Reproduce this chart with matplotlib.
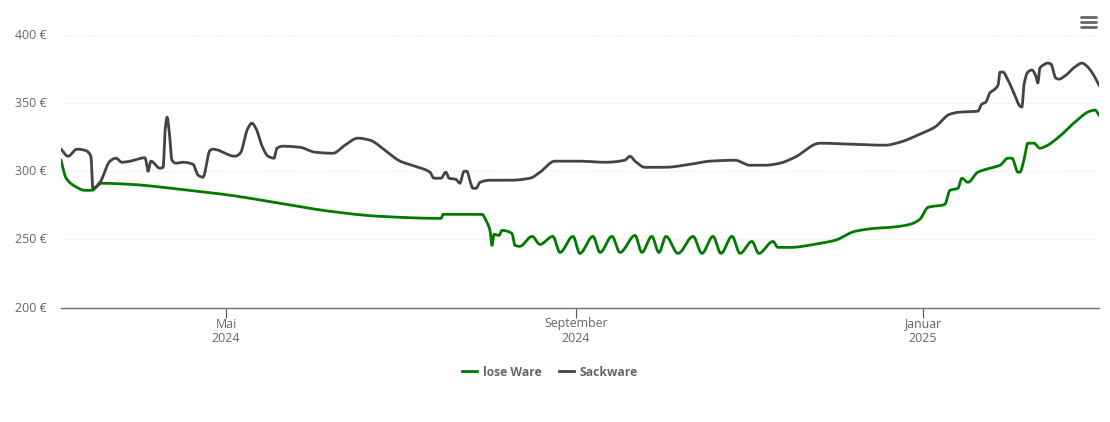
import numpy as np
import matplotlib
matplotlib.use("Agg")
import matplotlib.pyplot as plt
from matplotlib.lines import Line2D
from matplotlib.transforms import ScaledTranslation

# days since 2024-03-04, euros
sack_days = [0,2.5,5.6,8.4,10.5,11.2,13.7,17.2,19.3,21.4,24.3,29.5,30.2,30.6,31.6,34.8,35.9,36.6,37.3,38.0,39.0,40.4,42.9,46.4,48.2,49.9,52.4,53.4,61.2,63,65.7,67.1,68.5,70.7,72.8,74.9,75.9,78,84,89.3,95.6,99.8,104.4,108.6,113.9,119.2,124.4,129.7,131.1,133.6,135.3,136.4,138.8,140.2,141.7,142.7,143.8,144.8,145.9,147.3,150.8,157.8,164.9,168.4,173.6,182.4,191.2,198.2,200,201.8,205.3,212.3,221.1,228.1,236.9,242.2,247.5,252.7,258,266.8,277.3,289.6,294.9,301.9,307.2,312.5,316,322.3,323.7,325.1,326.5,328.3,329.4,330.1,331.1,332.9,335.3,337.1,337.8,338.5,339.9,341.3,342.7,343.4,344.1,344.8,346.9,348,349.7,350.8,352.9,356.4,358.9,360.6,362.8,364.9]
sack_vals = [316.2,311,316.2,315.4,311,287.5,291.9,307.4,309.6,306.6,307.4,309.9,304.4,300,307.4,302.2,302.9,330.1,339.7,330.1,308.1,305.9,306.6,305.1,297.1,295.6,315.4,316.2,311,313.2,331.6,335.3,331.6,318.4,311,309.6,316.9,318.4,317.6,314,313.2,319.1,324.3,322.8,315.4,307.4,303.7,299.3,294.9,294.9,299.3,294.9,294.1,291.2,300,300,292.6,287.5,287.5,291.9,293.4,293.4,294.9,299.3,307.4,307.4,306.6,308.1,311,307.4,302.9,302.9,305.1,307.4,308.1,304.4,304.4,305.9,310.3,320.6,319.9,319.1,321.3,327.2,332.4,341.9,343.4,344.1,349.3,350.7,357.4,360.3,363.2,372.8,372.8,366.9,355.9,347.8,347.1,363.2,372.8,374.3,369.9,364.7,375.7,377.2,379.4,378.7,368.4,367.6,369.9,376.5,379.4,377.2,371.3,363.2]

lose_days = [0,1.8,4.9,8.4,10.9,12.7,14.1,24.3,41.8,59.4,77,94.6,112.1,133.6,134.3,148,149.4,150.8,151.5,152.2,154,155,158.5,159.6,161.3,165.6,168.4,172.9,175.4,180,182.4,187,189.5,193.7,196.5,201.8,204.2,207.7,210.2,212.7,216.9,222.2,225.3,229.2,232,235.9,238.7,242.9,245.3,250.3,252,256.2,266.8,272.1,279.1,286.1,291.4,298.4,301.9,304.8,310.7,312.5,315.3,316.7,318.8,322.3,326.5,330.1,332.9,334.3,336.4,337.1,338.5,339.9,342,344.1,346.2,351.1,356.4,361.7,363.5,364.9]
lose_vals = [308.1,294.9,289,286,286,289,291.2,290.4,286.8,282.4,276.5,270.6,266.9,265.4,268.4,268.4,264,256.6,245.6,253.7,252.9,256.6,254.4,245.6,244.9,252.2,246.3,252.2,240.4,252.2,239.7,252.2,240.4,252.2,240.4,252.9,240.4,252.2,240.4,252.2,239.7,252.2,239.7,252.2,239.7,252.2,239.7,248.5,239.7,248.5,244.1,244.1,247.1,249.3,255.9,258.1,258.8,261,264.7,273.5,275.7,286,287.5,294.9,291.9,299.3,302.2,304.4,309.6,309.6,299.3,299.3,308.1,320.6,320.6,316.9,318.4,325.7,336,344.1,344.9,341.2]

x_ticks = [58, 181, 303]
x_labels = ["Mai\n2024", "September\n2024", "Januar\n2025"]
y_ticks = [200, 250, 300, 350, 400]
y_labels = ["200 €", "250 €", "300 €", "350 €", "400 €"]
series_names = ["lose Ware", "Sackware"]
GREEN, DARK = "#007a00", "#434348"
TXT = "#666666"

W, H = 1110, 422


def spline(xs, ys, n=10):
    """Screen smoothing between read points: monotone, so it never overshoots them."""
    xs, ys = np.asarray(xs, float), np.asarray(ys, float)
    dx = np.diff(xs)
    s = np.diff(ys) / dx
    m = np.zeros_like(xs)
    m[0], m[-1] = s[0], s[-1]
    for i in range(1, len(xs) - 1):
        if s[i - 1] * s[i] > 0:
            w1 = 2 * dx[i] + dx[i - 1]
            w2 = dx[i] + 2 * dx[i - 1]
            m[i] = (w1 + w2) / (w1 / s[i - 1] + w2 / s[i])
    t = np.linspace(0, 1, n, endpoint=False)[:, None]
    h00 = 2*t**3 - 3*t**2 + 1
    h10 = t**3 - 2*t**2 + t
    h01 = -2*t**3 + 3*t**2
    h11 = t**3 - t**2
    X = (xs[:-1] + t * dx).T.ravel()
    Y = (h00 * ys[:-1] + h10 * dx * m[:-1] + h01 * ys[1:] + h11 * dx * m[1:]).T.ravel()
    return np.r_[X, xs[-1]], np.r_[Y, ys[-1]]


plt.rcParams["font.family"] = ["Open Sans", "DejaVu Sans"]
fig = plt.figure(figsize=(W / 100, H / 100), dpi=100)
ax = fig.add_axes([61 / W, 1 - 307.5 / H, 1038 / W, 272.5 / H])
ax.set_xlim(0, 364.9)
ax.set_ylim(200, 400)

ax.plot(*spline(lose_days, lose_vals), color=GREEN, lw=2.0, label=series_names[0], solid_joinstyle="round", zorder=3)
ax.plot(*spline(sack_days, sack_vals), color=DARK, lw=2.0, label=series_names[1], solid_joinstyle="round", zorder=4)

for s in ["top", "left", "right"]:
    ax.spines[s].set_visible(False)
ax.spines["bottom"].set_color("#6e6e6e")
ax.spines["bottom"].set_linewidth(1.0)
ax.set_yticks(y_ticks, y_labels)
ax.set_xticks(x_ticks, x_labels)
ax.tick_params(axis="y", length=0, pad=10, labelsize=8.9, labelcolor=TXT)
ax.tick_params(axis="x", length=7.2, width=0.8, color="#555555", pad=0, labelsize=8.9, labelcolor=TXT)
for lab in ax.get_xticklabels():
    lab.set_linespacing(1.15)
up = ScaledTranslation(0, 1 / 100, fig.dpi_scale_trans)
for lab in ax.get_yticklabels():
    lab.set_transform(lab.get_transform() + up)
ax.grid(axis="y", color="#e6e6e6", lw=0.8, ls=(0, (1, 1.5)))
ax.set_axisbelow(True)

handles = [Line2D([], [], color=GREEN, lw=2.0), Line2D([], [], color=DARK, lw=2.0)]
fig.legend(handles, series_names, loc="center", bbox_to_anchor=(550 / W, 1 - 372 / H), ncol=2, frameon=False,
           handlelength=1.2, columnspacing=1.45, handletextpad=0.5,
           prop={"size": 8.7, "weight": "bold"}, labelcolor=TXT)

# export menu icon
for py in (16.5, 21.5, 26.5):
    fig.add_artist(Line2D([1081 / W, 1095.5 / W], [1 - py / H] * 2, color="#666666", lw=2.0, solid_capstyle="round"))

fig.savefig("out.png", dpi=100)
